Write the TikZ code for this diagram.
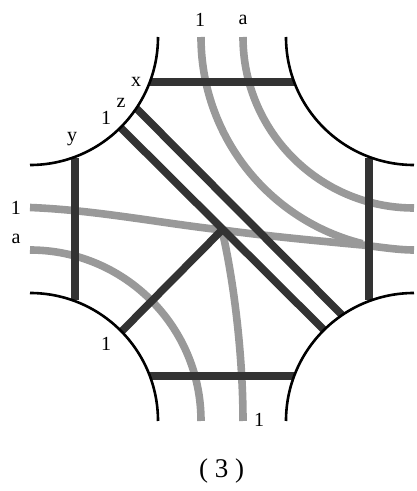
\documentclass[tikz,border=0pt]{standalone}
\usepackage{fontspec}
\setmainfont{Liberation Serif}
\usepackage{tikz}
\definecolor{DarkArc}{HTML}{333333}
\definecolor{GrayStrand}{HTML}{999999}
\begin{document}
\begin{tikzpicture}[
  x=1pt,y=1pt,
  bdry/.style={draw=black,line width=2.6pt},
  bar/.style={draw=DarkArc,line width=7.6pt},
  strand/.style={draw=GrayStrand,line width=7.6pt},
  lab/.style={inner sep=0pt,font=\fontsize{20}{22}\selectfont},
  captext/.style={inner sep=0pt,font=\fontsize{27}{30}\selectfont}
]
\useasboundingbox (0,0) rectangle (416,491);
% junctions
\coordinate (J) at (222,261);
\coordinate (K) at (362,246);
% gray strands
\coordinate (T1) at (201,454);
\coordinate (Ta) at (243,454);
\coordinate (L1) at (30,283.5);
\coordinate (La) at (30,241);
\coordinate (R1) at (414,241);
\coordinate (B1) at (243,70);
\draw[strand] (Ta) arc[start angle=180,end angle=270,radius=171];
\draw[strand] (T1) arc[start angle=180,end angle=256,radius=213];
\draw[strand] (La) arc[start angle=90,end angle=0,radius=171];
\draw[strand] (L1) .. controls (95,281) and (160,268) .. (J);
\draw[strand] (J) .. controls (275,254) and (320,250) .. (K);
\draw[strand] (K) .. controls (380,244) and (398,241) .. (R1);
\draw[strand] (J) .. controls (235,205) and (243,130) .. (B1);
% dark bars
\coordinate (Xa) at (150,409);
\coordinate (Xb) at (294,409);
\coordinate (Ya) at (75,333);
\coordinate (Yb) at (75,191);
\coordinate (Ua) at (369,333);
\coordinate (Ub) at (369,191);
\coordinate (Va) at (150,115);
\coordinate (Vb) at (294,115);
\coordinate (Za) at (136,383);
\coordinate (Zb) at (342,176);
\coordinate (Wa) at (121,363);
\coordinate (Wb) at (324,161);
\coordinate (Q) at (122,160);
\foreach \p/\q in {Xa/Xb,Ya/Yb,Ua/Ub,Va/Vb,Za/Zb,Wa/Wb,Q/J}
  \draw[bar] (\p) -- (\q);
% corners
\coordinate (TL) at (158,454);
\coordinate (TR) at (286,454);
\coordinate (BL) at (158,70);
\coordinate (BR) at (286,70);
\draw[bdry] (TL) arc[start angle=0,end angle=-90,radius=128];
\draw[bdry] (TR) arc[start angle=180,end angle=270,radius=128];
\draw[bdry] (BL) arc[start angle=0,end angle=90,radius=128];
\draw[bdry] (BR) arc[start angle=180,end angle=90,radius=128];
% labels
\node[lab] (lt1) at (200,471) {1};
\node[lab] (lta) at (243,471) {a};
\node[lab] (lx) at (136,409) {x};
\node[lab] (lz) at (121,388) {z};
\node[lab] (l1) at (106,373) {1};
\node[lab] (ly) at (72,352) {y};
\node[lab] (ll1) at (16,283) {1};
\node[lab] (lla) at (16,252) {a};
\node[lab] (lb1) at (106,147) {1};
\node[lab] (lbb) at (259,71) {1};
\node[captext] (cap3) at (221.5,20) {( 3 )};
\end{tikzpicture}
\end{document}
